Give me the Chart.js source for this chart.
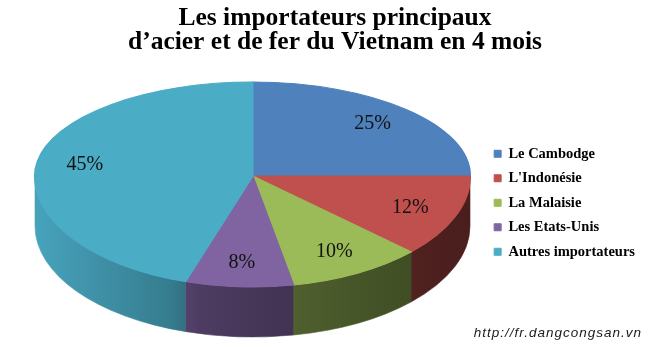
<!DOCTYPE html>
<html><head><meta charset="utf-8">
<script src="https://cdn.jsdelivr.net/npm/chart.js@4/dist/chart.umd.min.js"></script>
<style>html,body{margin:0;padding:0;background:#fff;}</style>
</head><body>
<canvas id="c" width="660" height="353" style="display:block;width:660px;height:353px"></canvas>
<script>
// ---- data ----
const categories = ["Le Cambodge", "L'Indonésie", "La Malaisie", "Les Etats-Unis", "Autres importateurs"];
const shares = [25, 12, 10, 8, 45];
const titleLines = ["Les importateurs principaux", "d\u2019acier et de fer du Vietnam en 4 mois"];
const sourceText = "http://fr.dangcongsan.vn";
const sliceColors = ["#4F81BD", "#C0504D", "#9BBB59", "#8064A2", "#4BACC6"];

// ---- layout / style of the 3D projection ----
const PIE = { cx: 252.5, cy: 176, rx: 217.5, ryTop: 94, ryBot: 111, depth: 50, labelR: 0.78 };
const sideStops = [[0, 0.95], [0.31, 0.72], [0.38, 0.6], [0.61, 0.5], [0.84, 0.42], [1, 0.38]];

function shade(hex, f) {
  const n = parseInt(hex.slice(1), 16);
  const r = (n >> 16) & 255, g = (n >> 8) & 255, b = n & 255;
  return `rgb(${Math.round(r * f)},${Math.round(g * f)},${Math.round(b * f)})`;
}

const pie3d = {
  id: 'pie3d',
  beforeDatasetsDraw(chart) {
    const ctx = chart.ctx;
    const arcs = chart.getDatasetMeta(0).data;
    if (!arcs.length) return false;
    const ox = arcs[0].x, oy = arcs[0].y, r = arcs[0].outerRadius;
    const sx = PIE.rx / r;
    // side walls (front half only)
    arcs.forEach((arc, i) => {
      const s = Math.max(arc.startAngle, 0), e = Math.min(arc.endAngle, Math.PI);
      if (e <= s) return;
      const g = ctx.createLinearGradient(PIE.cx - PIE.rx, 0, PIE.cx + PIE.rx, 0);
      sideStops.forEach(([t, f]) => g.addColorStop(t, shade(sliceColors[i], f)));
      ctx.save();
      ctx.beginPath();
      ctx.ellipse(PIE.cx, PIE.cy, PIE.rx, PIE.ryBot, 0, s, e, false);
      ctx.ellipse(PIE.cx, PIE.cy + PIE.depth, PIE.rx, PIE.ryBot, 0, e, s, true);
      ctx.closePath();
      ctx.fillStyle = g;
      ctx.fill();
      ctx.strokeStyle = g;
      ctx.lineWidth = 0.6;
      ctx.stroke();
      ctx.restore();
    });
    // top face, drawn by the library's arc elements under a projection
    const halves = [
      { ry: PIE.ryBot, y0: oy, y1: oy + r + 4 },
      { ry: PIE.ryTop, y0: oy - r - 4, y1: oy + 0.8 }
    ];
    halves.forEach(h => {
      ctx.save();
      ctx.translate(PIE.cx, PIE.cy);
      ctx.scale(sx, h.ry / r);
      ctx.translate(-ox, -oy);
      ctx.beginPath();
      ctx.rect(ox - r - 4, h.y0, 2 * r + 8, h.y1 - h.y0);
      ctx.clip();
      arcs.forEach(a => a.draw(ctx, chart.chartArea));
      ctx.restore();
    });
    return false;
  },
  afterDraw(chart) {
    const ctx = chart.ctx;
    const arcs = chart.getDatasetMeta(0).data;
    ctx.save();
    ctx.fillStyle = '#111';
    ctx.font = '20px "Liberation Serif", "Times New Roman", serif';
    ctx.textAlign = 'center';
    ctx.textBaseline = 'middle';
    arcs.forEach((arc, i) => {
      const mid = (arc.startAngle + arc.endAngle) / 2;
      const ux = Math.cos(mid) * PIE.labelR, uy = Math.sin(mid) * PIE.labelR;
      const x = PIE.cx + PIE.rx * ux;
      const y = PIE.cy + (uy < 0 ? PIE.ryTop : PIE.ryBot) * uy;
      ctx.fillText(shares[i] + '%', x, y);
    });
    ctx.font = 'italic 13.5px "Liberation Sans", Arial, sans-serif';
    try { ctx.letterSpacing = '1px'; } catch (e) {}
    ctx.textAlign = 'right';
    ctx.textBaseline = 'alphabetic';
    ctx.fillStyle = '#1a1a1a';
    ctx.fillText(sourceText, 642, 337);
    ctx.restore();
  }
};

new Chart(document.getElementById('c'), {
  type: 'pie',
  data: {
    labels: categories,
    datasets: [{ data: shares, backgroundColor: sliceColors, borderColor: sliceColors, borderWidth: 1 }]
  },
  options: {
    responsive: false,
    animation: false,
    events: [],
    layout: { padding: { left: 25, right: 15, top: 0, bottom: 84 } },
    plugins: {
      title: {
        display: true,
        text: titleLines,
        color: '#000',
        font: { family: '"Liberation Serif", "Times New Roman", serif', size: 25.5, weight: 'bold', lineHeight: '24px' },
        padding: { top: 6, bottom: 10 }
      },
      legend: {
        position: 'right',
        align: 'end',
        labels: {
          boxWidth: 7, boxHeight: 7, padding: 10, color: '#000',
          font: { family: '"Liberation Serif", "Times New Roman", serif', size: 14.5, weight: 'bold' }
        }
      },
      tooltip: { enabled: false }
    }
  },
  plugins: [pie3d]
});
</script>
</body></html>
